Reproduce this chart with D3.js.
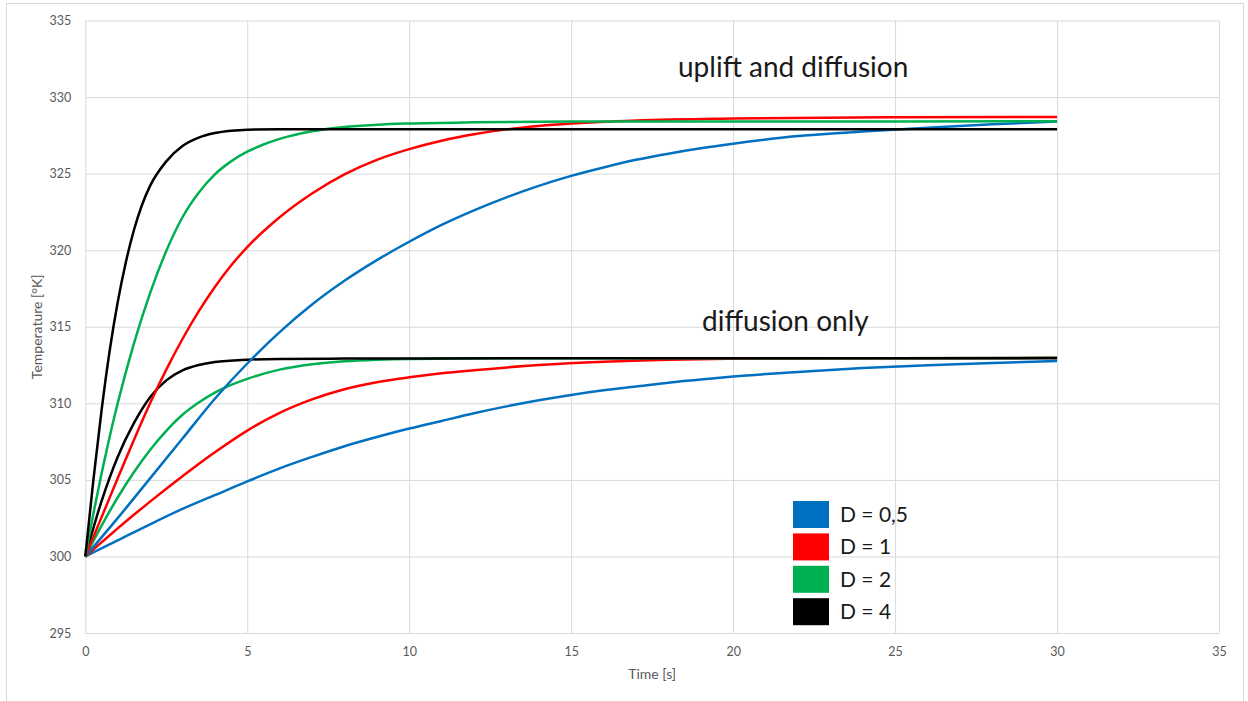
<!DOCTYPE html>
<html>
<head>
<meta charset="utf-8">
<script src="https://cdn.jsdelivr.net/npm/d3@7/dist/d3.min.js"></script>
<style>
  html, body { margin: 0; padding: 0; background: #fff; }
  svg { display: block; font-family: Lato, "Open Sans", sans-serif; }
</style>
</head>
<body>
<svg id="chart" width="1248" height="701"></svg>
<script>
// Axis ticks
const xTicks = [0, 5, 10, 15, 20, 25, 30, 35];
const yTicks = [295, 300, 305, 310, 315, 320, 325, 330, 335];

// Legend entries (diffusion coefficient)
const legendLabels = ["D = 0,5", "D = 1", "D = 2", "D = 4"];
const seriesColors = ["#0070C0", "#FF0000", "#00B050", "#000000"];

// Uplift and diffusion — time [s] and temperature [°K]
const upTimeD05 = [0,1,2,3,4,5,6,7,8,9,10,11,12,13,14,15,16,17,18,19,20,22,24,26,28,30];
const upTempD05 = [300,302.5,305.1,307.7,310.3,312.6,314.65,316.45,318.0,319.35,320.55,321.65,322.6,323.45,324.2,324.85,325.4,325.9,326.3,326.65,326.95,327.45,327.75,328.0,328.22,328.4];

const upTimeD1 = [0,0.5,1,1.5,2,2.5,3,3.5,4,4.5,5,6,7,8,9,10,11,12,13,14,15,17,20,25,30];
const upTempD1 = [300,302.55,305.1,307.6,310.0,312.2,314.2,316.0,317.6,319.0,320.2,322.15,323.7,324.95,325.9,326.6,327.15,327.57,327.89,328.11,328.27,328.47,328.6,328.68,328.7];

const upTimeD2 = [0,0.25,0.5,0.75,1,1.5,2,2.5,3,3.5,4,4.5,5,5.5,6,7,8,9,10,12,15,20,25,30];
const upTempD2 = [300,302.8,305.4,307.8,310.0,313.9,317.2,319.95,322.15,323.75,324.95,325.8,326.43,326.9,327.27,327.77,328.05,328.19,328.27,328.35,328.4,328.4,328.4,328.42];

const upTimeD4 = [0,0.25,0.5,0.75,1,1.25,1.5,1.75,2,2.5,3,3.5,4,4.5,5,6,8,10,15,20,25,30];
const upTempD4 = [300,305.0,309.5,313.4,316.6,319.2,321.3,322.95,324.2,325.8,326.8,327.35,327.65,327.8,327.87,327.9,327.9,327.9,327.9,327.9,327.9,327.9];

// Diffusion only — time [s] and temperature [°K]
const diffTimeD05 = [0,1,2,3,4,5,6,7,8,9,10,11,12,13,14,15,16,17,18,19,20,22,24,26,28,30];
const diffTempD05 = [300,301.05,302.1,303.1,304.0,304.9,305.75,306.5,307.2,307.8,308.35,308.85,309.35,309.8,310.2,310.55,310.85,311.1,311.35,311.55,311.75,312.05,312.3,312.48,312.63,312.76];

const diffTimeD1 = [0,0.5,1,1.5,2,2.5,3,3.5,4,5,6,7,8,9,10,11,12,14,16,18,20,25,30];
const diffTempD1 = [300,300.92,301.83,302.72,303.58,304.42,305.24,306.04,306.8,308.22,309.38,310.26,310.92,311.38,311.7,311.96,312.16,312.5,312.72,312.85,312.91,312.95,312.97];

const diffTimeD2 = [0,0.5,1,1.5,2,2.5,3,3.5,4,4.5,5,6,7,8,9,10,12,15,20,25,30];
const diffTempD2 = [300,302.0,303.85,305.5,306.95,308.2,309.25,310.05,310.7,311.2,311.6,312.2,312.55,312.75,312.85,312.9,312.93,312.95,312.95,312.95,312.97];

const diffTimeD4 = [0,0.5,1,1.5,2,2.5,3,3.5,4,5,6,8,10,15,20,25,30];
const diffTempD4 = [300,303.6,306.5,308.7,310.4,311.5,312.15,312.5,312.7,312.85,312.9,312.92,312.93,312.95,312.95,312.95,312.95];

// Annotation texts
const setLabels = ["uplift and diffusion", "diffusion only"];

const svg = d3.select("#chart");
const plot = { left: 85.3, right: 1219, top: 20.5, bottom: 633 };

const x = d3.scaleLinear().domain([0, 35]).range([plot.left, plot.right]);
const y = d3.scaleLinear().domain([295, 335]).range([plot.bottom, plot.top]);

// chart frame
svg.append("rect")
  .attr("x", 6.5).attr("y", 3.5)
  .attr("width", 1237).attr("height", 720)
  .attr("fill", "#fff").attr("stroke", "#d9d9d9").attr("stroke-width", 1);

// horizontal gridlines + y tick labels
const yAxis = svg.append("g")
  .attr("transform", `translate(${plot.left},0)`)
  .call(d3.axisLeft(y).tickValues(yTicks).tickSize(-(plot.right - plot.left)).tickPadding(14).tickFormat(d3.format("d")));
yAxis.select(".domain").remove();
yAxis.selectAll(".tick line").attr("stroke", "#d9d9d9").attr("stroke-width", 1);
yAxis.selectAll(".tick text").attr("fill", "#595959").style("font-size", "12.5px").style("font-family", "Lato, sans-serif");

// vertical gridlines + x tick labels
const xAxis = svg.append("g")
  .attr("transform", `translate(0,${plot.bottom})`)
  .call(d3.axisBottom(x).tickValues(xTicks).tickSize(-(plot.bottom - plot.top)).tickPadding(14).tickFormat(d3.format("d")));
xAxis.select(".domain").remove();
xAxis.selectAll(".tick line").attr("stroke", "#d9d9d9").attr("stroke-width", 1);
xAxis.selectAll(".tick text").attr("fill", "#595959").style("font-size", "12.5px").style("font-family", "Lato, sans-serif");

// axis titles
svg.append("text")
  .attr("x", (plot.left + plot.right) / 2).attr("y", 679)
  .attr("text-anchor", "middle").attr("fill", "#595959")
  .style("font-size", "14px").text("Time [s]");
svg.append("text")
  .attr("transform", `translate(42,${(plot.top + plot.bottom) / 2}) rotate(-90)`)
  .attr("text-anchor", "middle").attr("fill", "#595959")
  .style("font-size", "14px").text("Temperature [°K]");

// series
const line = d3.line()
  .x(d => x(d[0]))
  .y(d => y(d[1]))
  .curve(d3.curveMonotoneX);

const diffSeries = [
  [diffTimeD05, diffTempD05],
  [diffTimeD1, diffTempD1],
  [diffTimeD2, diffTempD2],
  [diffTimeD4, diffTempD4]
];
const upSeries = [
  [upTimeD05, upTempD05],
  [upTimeD1, upTempD1],
  [upTimeD2, upTempD2],
  [upTimeD4, upTempD4]
];

const linesG = svg.append("g").attr("fill", "none").attr("stroke-width", 2.5).attr("stroke-linejoin", "round");
[diffSeries, upSeries].forEach(set => {
  set.forEach(([ts, vs], i) => {
    linesG.append("path")
      .datum(ts.map((t, k) => [t, vs[k]]))
      .attr("stroke", seriesColors[i])
      .attr("d", line);
  });
});

// set annotations
svg.append("text")
  .attr("x", 678).attr("y", 77)
  .attr("fill", "#1a1a1a").style("font-size", "28px")
  .text(setLabels[0]);
svg.append("text")
  .attr("x", 702).attr("y", 331)
  .attr("fill", "#1a1a1a").style("font-size", "28px")
  .text(setLabels[1]);

// legend
const legend = svg.append("g").attr("transform", "translate(793,501)");
legendLabels.forEach((lab, i) => {
  const g = legend.append("g").attr("transform", `translate(0,${i * 32.4})`);
  g.append("rect").attr("width", 36).attr("height", 27).attr("fill", seriesColors[i]);
  g.append("text").attr("x", 47).attr("y", 21)
    .attr("fill", "#1a1a1a").style("font-size", "21px").text(lab);
});
</script>
</body>
</html>
